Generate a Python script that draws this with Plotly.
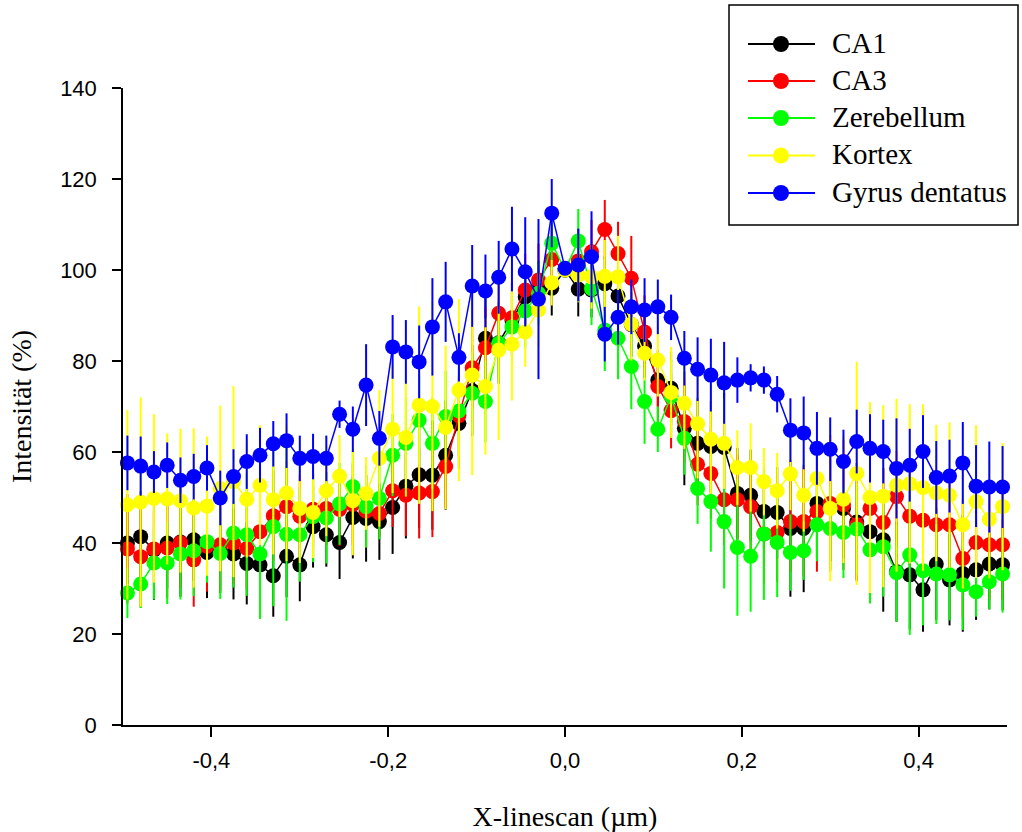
import plotly.graph_objects as go

# X positions of the linescan (µm)
x_pos = [-0.495, -0.480, -0.465, -0.450, -0.435, -0.420, -0.405, -0.390, -0.375, -0.360,
         -0.345, -0.330, -0.315, -0.300, -0.285, -0.270, -0.255, -0.240, -0.225, -0.210,
         -0.195, -0.180, -0.165, -0.150, -0.135, -0.120, -0.105, -0.090, -0.075, -0.060,
         -0.045, -0.030, -0.015, 0.000, 0.015, 0.030, 0.045, 0.060, 0.075, 0.090,
         0.105, 0.120, 0.135, 0.150, 0.165, 0.180, 0.195, 0.210, 0.225, 0.240,
         0.255, 0.270, 0.285, 0.300, 0.315, 0.330, 0.345, 0.360, 0.375, 0.390,
         0.405, 0.420, 0.435, 0.450, 0.465, 0.480, 0.495]

series_names = ["CA1", "CA3", "Zerebellum", "Kortex", "Gyrus dentatus"]

ca1 = [40.0, 41.4, 38.5, 40.0, 40.2, 40.7, 37.9, 38.5, 37.6, 35.5, 35.2,
       32.8, 37.1, 35.2, 43.6, 41.8, 40.1, 45.6, 45.4, 44.7, 47.8, 52.5,
       55.0, 54.9, 59.3, 66.3, 73.5, 85.0, 84.0, 89.0, 94.1, 96.0, 96.0,
       100.0,
       95.8, 95.6, 97.0, 94.3, 88.0, 83.3, 75.8, 74.0, 65.2, 61.9, 61.2,
       61.0, 50.9, 50.5, 46.9, 46.7, 43.2, 43.2, 48.7, 48.0, 47.6, 44.6,
       42.5, 40.7, 33.7, 33.0, 29.7, 35.4, 31.9, 33.3, 34.1, 35.4, 35.2]
ca1_err = [9, 10, 11, 10, 12, 9, 10, 9.5, 10, 9, 10,
           9, 9, 8, 9, 7, 8, 9, 9.5, 8.4, 10.2, 11.5,
           11.7, 12, 12, 10, 10, 9, 9, 8, 7, 6, 6,
           0,
           6, 6, 6, 6, 7, 7, 5.8, 8, 12.5, 10, 10,
           12, 10, 10, 8, 10, 15, 14, 12, 12, 11, 13,
           12, 15.8, 11, 12, 9.2, 12.3, 10, 12.8, 11, 10, 10]

ca3 = [38.7, 37.0, 38.7, 38.9, 40.1, 36.3, 39.3, 39.6, 40.0, 38.8, 42.5,
       46.0, 48.0, 45.9, 47.4, 47.6, 47.4, 48.5, 47.0, 46.5, 51.5, 50.5,
       51.0, 51.3, 56.8, 68.0, 78.5, 82.9, 90.5, 89.5, 95.6, 97.8, 102.3,
       100.0,
       102.0, 104.0, 108.9, 103.6, 98.2, 86.4, 74.4, 69.1, 66.7, 57.3, 55.3,
       49.5, 49.5, 48.0, 42.0, 42.3, 44.7, 44.7, 46.9, 48.7, 48.4, 44.0,
       47.6, 44.5, 50.2, 45.9, 45.0, 44.0, 44.0, 36.6, 40.1, 39.6, 39.6]
ca3_err = [12, 11.2, 8.3, 11, 10, 10.3, 10, 10, 9, 9, 10,
           10, 10, 9, 8, 8, 8, 9, 8, 5.2, 8, 9,
           10, 10, 9, 9, 9, 9, 9, 8, 8, 8, 7,
           0,
           7, 7, 6.5, 7, 9.3, 8, 8, 8.3, 9, 9, 10,
           10, 10, 10, 11, 10.8, 11, 12, 13.2, 15, 14.3, 12,
           12, 12, 10, 11, 11, 10, 12, 13, 12, 12, 12]

zerebellum = [29.0, 31.0, 35.6, 35.6, 37.6, 38.3, 40.3, 37.7, 42.2, 41.8, 37.6,
              43.6, 41.9, 41.8, 45.8, 45.5, 48.6, 52.4, 48.0, 49.8, 59.3, 61.9,
              67.0, 61.9, 67.8, 69.0, 72.9, 71.1, 83.9, 87.5, 91.0, 94.9, 105.9,
              100.0,
              106.4, 95.9, 86.8, 85.0, 78.8, 71.1, 65.0, 72.2, 63.0, 52.0, 49.1,
              44.7, 39.0, 37.1, 42.0, 40.1, 37.9, 38.3, 44.0, 43.2, 42.3, 43.1,
              38.5, 39.2, 33.5, 37.4, 33.9, 33.2, 33.0, 30.8, 29.3, 31.5, 33.2]
zerebellum_err = [5.5, 5.3, 8, 9, 10, 10, 9, 10, 12, 13.4, 14.3,
                  17.5, 19, 10.3, 10, 10, 9, 8, 9, 9, 9, 10,
                  10, 10, 10, 10, 9, 9, 8, 8, 8, 7, 6,
                  0,
                  7, 8, 9, 9, 9.4, 9.3, 5, 8, 8, 7.8, 11,
                  14.7, 15, 12.2, 14.5, 12, 8.4, 6.4, 8, 9, 10, 10,
                  11.8, 11, 10.8, 17.6, 12, 11, 10, 9.9, 5.5, 6, 8.5]

kortex = [48.4, 49.0, 49.8, 49.7, 49.3, 47.7, 48.1, 52.0, 53.5, 49.6, 52.7,
          49.5, 51.0, 47.6, 46.7, 51.5, 54.7, 49.3, 50.9, 58.6, 65.0, 63.2,
          70.3, 70.0, 65.4, 73.6, 76.9, 74.4, 82.4, 83.7, 86.4, 91.2, 97.2,
          100.0,
          98.9, 98.5, 98.6, 98.5, 88.1, 81.7, 80.2, 73.1, 70.7, 66.2, 62.8,
          61.9, 56.6, 56.6, 53.5, 51.5, 55.2, 50.5, 54.2, 47.6, 49.6, 55.3,
          50.0, 50.3, 52.7, 53.0, 52.2, 51.0, 50.5, 44.0, 49.1, 45.2, 48.0]
kortex_err = [20.8, 23, 18.5, 14.4, 15.8, 17.5, 15.3, 18.2, 21, 12.8, 13.2,
              12, 15, 12, 10, 10, 9, 12, 8, 15, 14, 13,
              21.7, 23, 18, 20, 22, 15, 19.8, 12.4, 7.7, 8, 5,
              0,
              6, 7, 8, 9, 8, 6, 8, 10, 10, 12, 12,
              10, 8.2, 9.7, 7.4, 8.3, 8, 8, 8.4, 16, 14, 24.5,
              21, 20, 19, 17.5, 18.3, 15, 16, 14, 16.8, 13, 14]

gyrus = [57.6, 56.9, 55.6, 57.1, 53.8, 54.6, 56.5, 49.9, 54.6, 57.9, 59.3,
         61.8, 62.5, 58.6, 59.0, 58.6, 68.3, 65.0, 74.7, 63.0, 83.1, 82.0,
         79.8, 87.5, 93.0, 80.8, 96.5, 95.4, 98.4, 104.6, 99.6, 93.6, 112.5,
         100.4,
         101.1, 102.9, 85.9, 89.6, 91.9, 91.2, 91.9, 89.6, 80.6, 78.2, 76.9,
         75.2, 75.8, 76.3, 75.8, 72.7, 64.8, 64.2, 60.8, 60.6, 57.9, 62.3,
         60.8, 60.1, 56.4, 57.1, 60.1, 54.4, 54.7, 57.6, 52.5, 52.3, 52.3]
gyrus_err = [6, 6.5, 4.6, 5, 5, 5, 5, 6, 6, 6, 6,
             5, 6, 5, 5, 5, 3, 5, 9, 6, 7, 7,
             8, 10.7, 8.8, 5.3, 9, 8, 8, 9.3, 12, 17.6, 7.5,
             0,
             8, 10, 6, 6, 6, 7, 6, 5, 6, 7, 8,
             9, 5, 3, 3, 4, 7, 8, 8, 7, 7, 7,
             7.5, 7, 11, 8, 8, 8, 8, 9, 9, 10, 9]

x_tickvals = [-0.4, -0.2, 0.0, 0.2, 0.4]
x_ticktext = ["-0,4", "-0,2", "0,0", "0,2", "0,4"]
y_tickvals = [0, 20, 40, 60, 80, 100, 120, 140]

colors = ["#000000", "#ff0000", "#00ff00", "#ffff00", "#0000ff"]
values = [ca1, ca3, zerebellum, kortex, gyrus]
errors = [ca1_err, ca3_err, zerebellum_err, kortex_err, gyrus_err]

W, H = 1022, 832
ML, MR, MT, MB = 123, 15, 88, 107
PW, PH = W - ML - MR, H - MT - MB


def fx(px):
    return (px - ML) / PW


def fy(py):
    return (H - MB - py) / PH


serif = "Liberation Serif"
sans = "Liberation Sans"

fig = go.Figure()
for name, col, yv, ev in zip(series_names, colors, values, errors):
    fig.add_trace(go.Scatter(
        x=x_pos, y=yv, name=name, mode="lines+markers",
        line=dict(color=col, width=1.5),
        marker=dict(color=col, size=15, line=dict(width=0)),
        error_y=dict(type="data", array=ev, visible=True, color=col,
                     thickness=2, width=0),
        cliponaxis=False, showlegend=False,
    ))

# legend drawn as a framed box with line+marker keys
shapes = [dict(type="rect", xref="paper", yref="paper",
               x0=fx(729), x1=fx(1018), y0=fy(225), y1=fy(5),
               line=dict(color="black", width=1.5), fillcolor="white",
               layer="above")]
annotations = []
legend_rows = [44, 81, 118, 155.5, 193]
for name, col, ry in zip(series_names, colors, legend_rows):
    shapes.append(dict(type="line", xref="paper", yref="paper",
                       x0=fx(748), x1=fx(815), y0=fy(ry), y1=fy(ry),
                       line=dict(color=col, width=2), layer="above"))
    shapes.append(dict(type="circle", xref="paper", yref="paper",
                       xsizemode="pixel", ysizemode="pixel",
                       xanchor=fx(781), yanchor=fy(ry),
                       x0=-8, x1=8, y0=-8, y1=8,
                       fillcolor=col, line=dict(width=0), layer="above"))
    annotations.append(dict(xref="paper", yref="paper", x=fx(830), y=fy(ry - 1),
                            xanchor="left", yanchor="middle", showarrow=False,
                            text=name,
                            font=dict(family=serif, size=29, color="black")))

fig.update_layout(
    width=W, height=H,
    margin=dict(l=ML, r=MR, t=MT, b=MB, autoexpand=False),
    paper_bgcolor="white", plot_bgcolor="white",
    showlegend=False,
    shapes=shapes, annotations=annotations,
    xaxis=dict(
        range=[-0.5, 0.5], tickvals=x_tickvals, ticktext=x_ticktext,
        showgrid=False, zeroline=False, showline=True, linecolor="black",
        linewidth=1.5, ticks="outside", ticklen=10, tickwidth=1.5,
        tickcolor="black", ticklabelstandoff=5,
        tickfont=dict(family=sans, size=22, color="black"),
        title=dict(text="X-linescan (µm)", standoff=36,
                   font=dict(family=serif, size=28, color="black")),
    ),
    yaxis=dict(
        range=[0, 140], tickvals=y_tickvals,
        showgrid=False, zeroline=False, showline=True, linecolor="black",
        linewidth=1.5, ticks="outside", ticklen=9, tickwidth=1.5,
        tickcolor="black", ticklabelstandoff=11,
        tickfont=dict(family=sans, size=22, color="black"),
        title=dict(text="Intensität (%)", standoff=20,
                   font=dict(family=serif, size=28, color="black")),
    ),
)

fig.write_html("out.html",
               config={"displayModeBar": False},
               post_script="document.body.style.margin='0';"
                           "document.body.style.overflow='hidden';")
